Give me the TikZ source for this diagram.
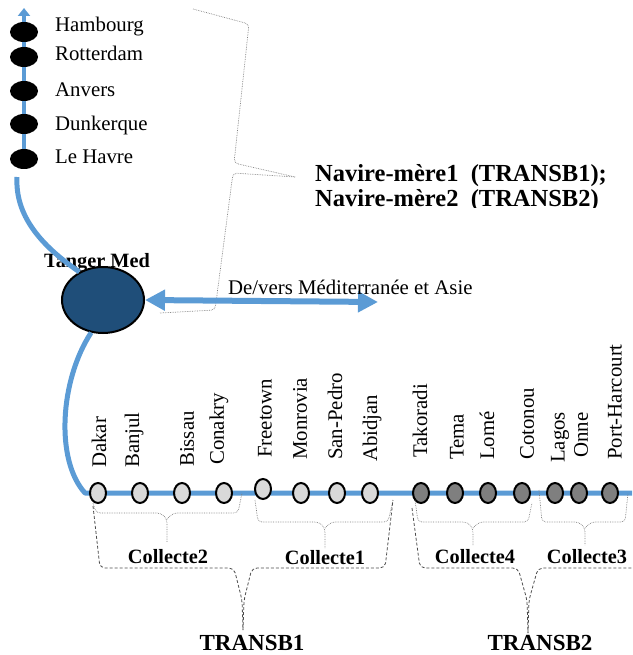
\documentclass[tikz,border=0pt]{standalone}
\usepackage{fontspec}
\setmainfont{Liberation Serif}
\usetikzlibrary{shapes.geometric,arrows.meta}
\definecolor{routeblue}{HTML}{5B9BD5}
\definecolor{hubblue}{HTML}{1F4E79}
\definecolor{portlight}{HTML}{D9D9D9}
\definecolor{portdark}{HTML}{7F7F7F}
\tikzset{
  route/.style={routeblue, line width=5pt, line join=round},
  portN/.style={ellipse, fill=black, minimum width=28pt, minimum height=20pt, inner sep=0pt},
  portL/.style={ellipse, draw=black, line width=2pt, fill=portlight, minimum width=16pt, minimum height=20pt, inner sep=0pt},
  portD/.style={portL, fill=portdark},
  lbl/.style={font=\fontsize{20.8}{22}\selectfont, inner sep=0pt},
  vlbl/.style={lbl, rotate=90, anchor=west},
  grp/.style={font=\fontsize{20.3}{22}\selectfont\bfseries, inner sep=0pt},
  big/.style={font=\fontsize{23}{25}\selectfont\bfseries, inner sep=0pt},
  collbrace/.style={draw=gray, densely dotted, line width=0.7pt, rounded corners=4pt},
  transbrace/.style={draw=black!70, densely dashed, line width=0.8pt, rounded corners=5pt},
}
\begin{document}
\begin{tikzpicture}[x=1pt,y=-1pt]
\useasboundingbox (0,0) rectangle (632,655);

% northern range
\coordinate (north) at (24,8);
\coordinate (c1) at (17,177);
\draw[routeblue, line width=4pt, -{Triangle[length=8pt,width=12pt]}] (24,160) -- (north);
\node[portN] (hambourg) at (24,32) {};
\node[portN] (rotterdam) at (24,57) {};
\node[portN] (anvers) at (24,91) {};
\node[portN] (dunkerque) at (24,124) {};
\node[portN] (havre) at (24,159) {};
\node[lbl, anchor=west] (tHambourg) at (55,27) {Hambourg};
\node[lbl, anchor=west] (tRotterdam) at (55,53) {Rotterdam};
\node[lbl, anchor=west] (tAnvers) at (55,90) {Anvers};
\node[lbl, anchor=west] (tDunkerque) at (55,125) {Dunkerque};
\node[lbl, anchor=west] (tHavre) at (55,157) {Le Havre};

% hub
\node[grp] (tTanger) at (97,263) {Tanger Med};
\node[ellipse, draw=black, line width=2pt, fill=hubblue, minimum width=82pt, minimum height=66pt] (hub) at (103,300) {};
\draw[route] (c1) .. controls (15,215) and (40,245) .. (hub.130);

% mother vessels
\draw[collbrace] (193,9) -- (249,24) -- (234,163) -- (295,177);
\draw[collbrace] (295,177) -- (233,173) -- (215,310) -- (160,313);
\begin{scope}
\clip (300,150) rectangle (632,207);
\node[font=\fontsize{24.5}{25}\selectfont\bfseries, align=left, anchor=north west, inner sep=0pt] (navire) at (315,164) {Navire-mère1\ \ (TRANSB1);\\Navire-mère2\ \ (TRANSB2)};
\end{scope}

% Mediterranean link
\coordinate (med) at (378,302);
\draw[routeblue, line width=6pt, {Triangle[length=20pt,width=20pt]}-{Triangle[length=20pt,width=20pt]}] (hub.east) -- (med);
\node[lbl, anchor=west] (tMed) at (228,287) {De/vers Méditerranée et Asie};

% west african range
\coordinate (w) at (85,493);
\coordinate (e) at (632,493);
\draw[route] (hub.250) .. controls (60,380) and (55,460) .. (w) -- (e);

\node[portL] (dakar) at (98,493) {};
\node[portL] (banjul) at (140,493) {};
\node[portL] (bissau) at (182,493) {};
\node[portL] (conakry) at (224,493) {};
\node[portL] (freetown) at (263,489) {};
\node[portL] (monrovia) at (301,493) {};
\node[portL] (sanpedro) at (337,493) {};
\node[portL] (abidjan) at (370,493) {};
\node[portD] (takoradi) at (421,493) {};
\node[portD] (tema) at (455,493) {};
\node[portD] (lome) at (488,493) {};
\node[portD] (cotonou) at (522,493) {};
\node[portD] (lagos) at (555,493) {};
\node[portD] (onne) at (579,493) {};
\node[portD] (harcourt) at (610,493) {};

\node[vlbl] (tDakar) at (99,468) {Dakar};
\node[vlbl] (tBanjul) at (134,468) {Banjul};
\node[vlbl] (tBissau) at (187,467) {Bissau};
\node[vlbl] (tConakry) at (219,465) {Conakry};
\node[vlbl] (tFreetown) at (265,458) {Freetown};
\node[vlbl] (tMonrovia) at (300,460) {Monrovia};
\node[vlbl] (tSanpedro) at (335,460) {San-Pedro};
\node[vlbl] (tAbidjan) at (372,462) {Abidjan};
\node[vlbl] (tTakoradi) at (420,458) {Takoradi};
\node[vlbl] (tTema) at (457,460) {Tema};
\node[vlbl] (tLome) at (487,460) {Lomé};
\node[vlbl] (tCotonou) at (527,460) {Cotonou};
\node[vlbl] (tLagos) at (560,463) {Lagos};
\node[vlbl] (tOnne) at (581,458) {Onne};
\node[vlbl] (tHarcourt) at (615,460) {Port-Harcourt};

% collection groups
\draw[collbrace] (93,503) -- (96,513) -- (161,513) -- (167,519) -- (167,542);
\draw[collbrace] (167,519) -- (173,513) -- (238,513) -- (242,493);
\draw[collbrace] (255,500) -- (258,522) -- (319,522) -- (325,528) -- (325,548);
\draw[collbrace] (325,528) -- (331,522) -- (388,522) -- (393,500);
\draw[collbrace] (415,500) -- (418,522) -- (467,522) -- (473,528) -- (473,545);
\draw[collbrace] (473,528) -- (479,522) -- (528,522) -- (532,503);
\draw[collbrace] (539,490) -- (542,522) -- (579,522) -- (585,528) -- (585,545);
\draw[collbrace] (585,528) -- (591,522) -- (625,522) -- (628,493);
\node[grp] (collecte2) at (168,557) {Collecte2};
\node[grp] (collecte1) at (325,558) {Collecte1};
\node[grp] (collecte4) at (475,557) {Collecte4};
\node[grp] (collecte3) at (587,557) {Collecte3};

% transshipment groups
\draw[transbrace] (93,506) -- (100,568) -- (234,568) -- (242,600) -- (243,630);
\draw[transbrace] (243,630) -- (244,600) -- (252,568) -- (385,568) -- (393,500);
\draw[transbrace] (412,508) -- (420,568) -- (518,568) -- (527,600) -- (528,633);
\draw[transbrace] (528,633) -- (529,600) -- (538,568) -- (632,568);
\node[big] (transb1) at (252,643) {TRANSB1};
\node[big] (transb2) at (540,643) {TRANSB2};
\end{tikzpicture}
\end{document}
